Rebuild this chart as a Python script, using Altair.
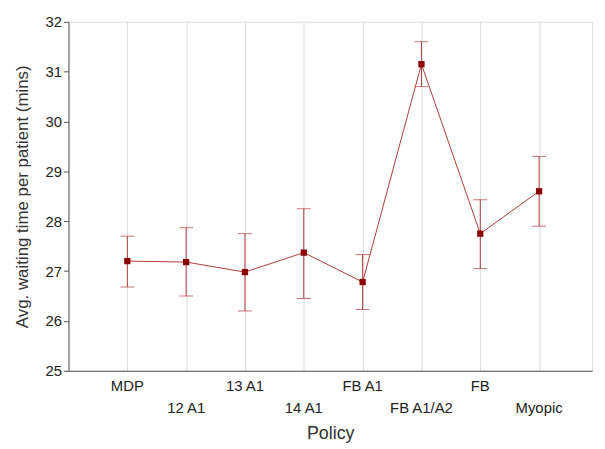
import altair as alt
import pandas as pd

policies = ["MDP", "12 A1", "13 A1", "14 A1", "FB A1", "FB A1/A2", "FB", "Myopic"]
means = [27.2, 27.18, 26.98, 27.37, 26.78, 31.15, 27.75, 28.6]
lows = [26.68, 26.5, 26.2, 26.45, 26.23, 30.7, 27.05, 27.9]
highs = [27.7, 27.87, 27.75, 28.25, 27.33, 31.6, 28.43, 29.3]

df = pd.DataFrame({
    "idx": list(range(len(policies))),
    "policy": policies,
    "mean": means,
    "lo": lows,
    "hi": highs,
    "row": [0, 1] * 4,
})

red = "#8b0000"
W, H = 528, 352
xs = alt.Scale(domain=[-1, 7.9], nice=False, zero=False)
ys = alt.Scale(domain=[25, 32], nice=False, zero=False)

x = alt.X("idx:Q", scale=xs, title="Policy",
          axis=alt.Axis(values=list(range(8)), labels=False, grid=True, gridColor="#dddddd",
                        ticks=False, titleFontSize=18, titlePadding=54, titleColor="#333",
                        titleFontWeight="normal", domainColor="#555"))
y = alt.Y("mean:Q", scale=ys, title="Avg. waiting time per patient (mins)",
          axis=alt.Axis(values=list(range(25, 33)), grid=False, labelFontSize=15,
                        titleFontSize=17, titleFontWeight="normal", titleColor="#333",
                        labelColor="#222", domainColor="#555", tickColor="#555", titlePadding=14))

base = alt.Chart(df)
line = base.mark_line(color="#b03a3a", strokeWidth=1).encode(x=x, y=y)
err = base.mark_rule(color="#b03a3a", strokeWidth=1).encode(x="idx:Q", y=alt.Y("lo:Q", scale=ys), y2="hi:Q")
cap_lo = base.mark_tick(color="#b03a3a", thickness=1, size=14, orient="horizontal").encode(x="idx:Q", y=alt.Y("lo:Q", scale=ys))
cap_hi = base.mark_tick(color="#b03a3a", thickness=1, size=14, orient="horizontal").encode(x="idx:Q", y=alt.Y("hi:Q", scale=ys))
pts = base.mark_square(color=red, size=40, opacity=1).encode(x="idx:Q", y="mean:Q")
lab0 = base.transform_filter("datum.row == 0").mark_text(fontSize=15, color="#222", baseline="top").encode(
    x="idx:Q", y=alt.value(H + 8), text="policy:N")
lab1 = base.transform_filter("datum.row == 1").mark_text(fontSize=15, color="#222", baseline="top").encode(
    x="idx:Q", y=alt.value(H + 31), text="policy:N")

chart = alt.layer(line, err, cap_lo, cap_hi, pts, lab0, lab1).properties(
    width=W, height=H
).configure_view(stroke="#555", strokeWidth=1).configure(font="Liberation Sans")

chart.save("out.html", embed_options={"renderer": "svg", "actions": False})
